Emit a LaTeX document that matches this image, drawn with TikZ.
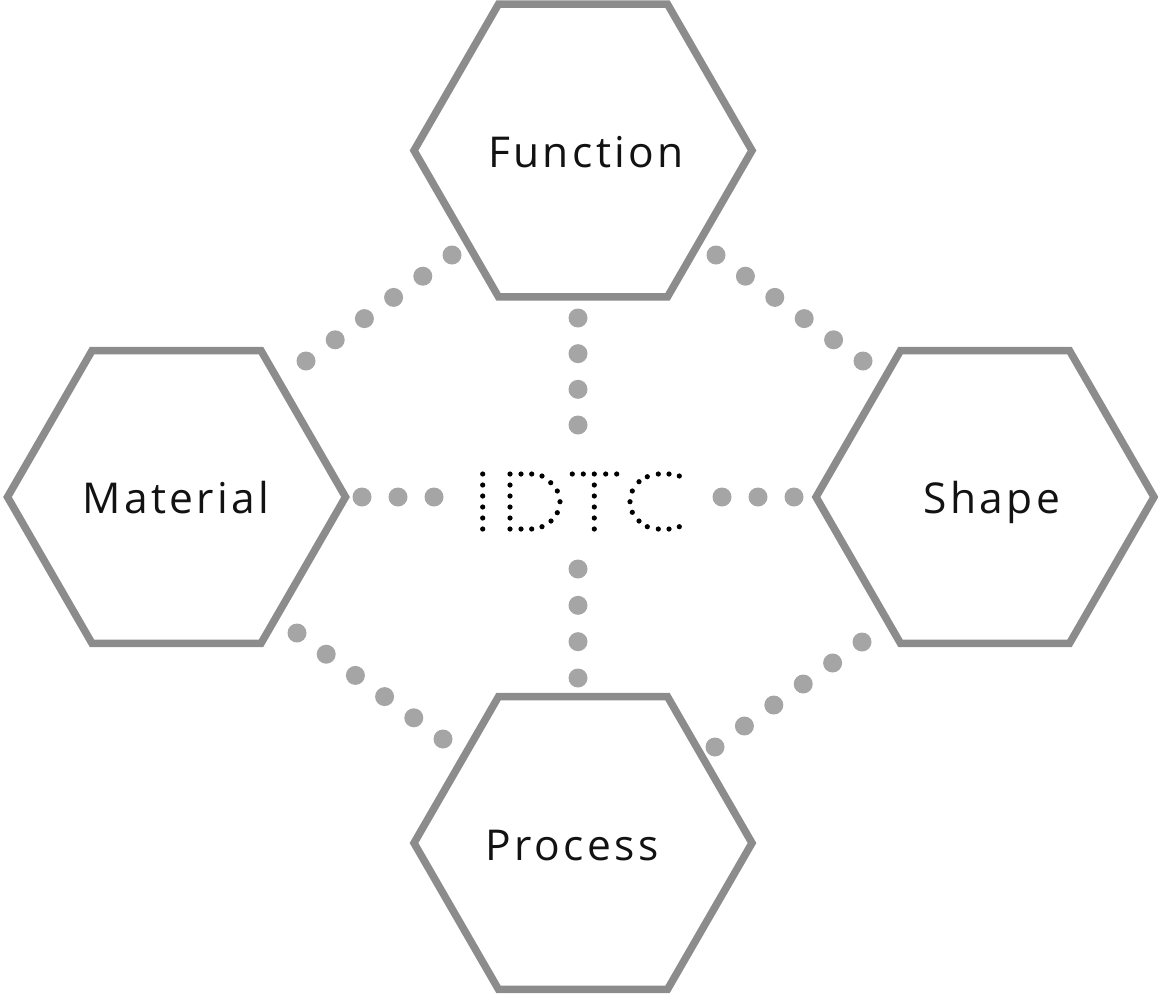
\documentclass[tikz,border=0pt]{standalone}
\usepackage{fontspec}
\setmainfont{Open Sans}[LetterSpace=8]
\usetikzlibrary{shapes.geometric,calc}
\definecolor{hexgray}{RGB}{140,140,140}
\definecolor{dotgray}{RGB}{165,165,165}
\definecolor{txt}{RGB}{18,18,18}
\tikzset{
  hexa/.style={regular polygon, regular polygon sides=6, minimum size=338pt,
    inner sep=0pt, outer sep=0pt, draw=hexgray, line width=7.5pt},
  lbl/.style={font=\fontsize{42.5}{42.5}\selectfont, text=txt, anchor=base, inner sep=0pt},
  bigdot/.style={fill=dotgray},
  smalldot/.style={fill=black},
}
\newcommand\dotline[3]{%
  \foreach \i in {0,...,#3}{%
    \pgfmathsetmacro\dotfrac{\i/#3}%
    \fill[bigdot] ($(#1)!\dotfrac!(#2)$) circle (9.5pt);
  }}
\begin{document}
\begin{tikzpicture}[x=1pt,y=-1pt]
\useasboundingbox (0,0) rectangle (1158,996);
% hexagons
\node[hexa] (fn) at (583,150.5) {};
\node[hexa] (mat) at (176.5,497) {};
\node[hexa] (shp) at (985,497) {};
\node[hexa] (prc) at (583,843) {};
% labels
\node[lbl] (fnl) at (586,167) {Function};
\node[lbl] (matl) at (176,513) {Material};
\node[lbl] (shpl) at (992,513) {Shape};
\node[lbl] (prcl) at (572,860) {Process};
% centre label
\node[font=\fontsize{70}{70}\selectfont, text opacity=0, inner sep=0pt] (idtc) at (581,501.5) {IDTC};
% dotted connector end points
\coordinate (a1) at (452,255); \coordinate (a2) at (306,361);
\coordinate (b1) at (716,255); \coordinate (b2) at (863,361);
\coordinate (c1) at (297,633); \coordinate (c2) at (443,739);
\coordinate (d1) at (862,642); \coordinate (d2) at (715,747);
\coordinate (e1) at (578,318); \coordinate (e2) at (578,425);
\coordinate (f1) at (578,569); \coordinate (f2) at (578,678);
\coordinate (g1) at (362,497); \coordinate (g2) at (434,497);
\coordinate (h1) at (722,497); \coordinate (h2) at (794,497);
\dotline{a1}{a2}{5}
\dotline{b1}{b2}{5}
\dotline{c1}{c2}{5}
\dotline{d1}{d2}{5}
\dotline{e1}{e2}{3}
\dotline{f1}{f2}{3}
\dotline{g1}{g2}{2}
\dotline{h1}{h2}{2}
% IDTC drawn in dots
\foreach \p in {
  (482.7,474),(482.7,485),(482.7,496),(482.7,507),(482.7,518),(482.7,529),
  (510,474),(510,485),(510,496),(510,507),(510,518),(510,529),
  (521,474),(531.7,474),(542,476),(550.7,482.7),(557.3,491),(560,501.7),
  (557.3,512.7),(551,521),(542,526.7),(531.7,529),(521,529),
  (572.3,474),(583.3,474),(594.3,474),(605.7,474),(616.7,474),
  (594.3,485),(594.3,496),(594.3,507),(594.3,518),(594.3,529),
  (679.3,476),(669,474),(658.3,474),(647.3,476.7),(639,481.7),(632.3,491),
  (630,501.7),(632.3,512.3),(639,521),(647.3,526.7),(658.3,529),(669,529),(679.3,526.7)}
  \fill[smalldot] \p circle (2.6pt);
\end{tikzpicture}
\end{document}
